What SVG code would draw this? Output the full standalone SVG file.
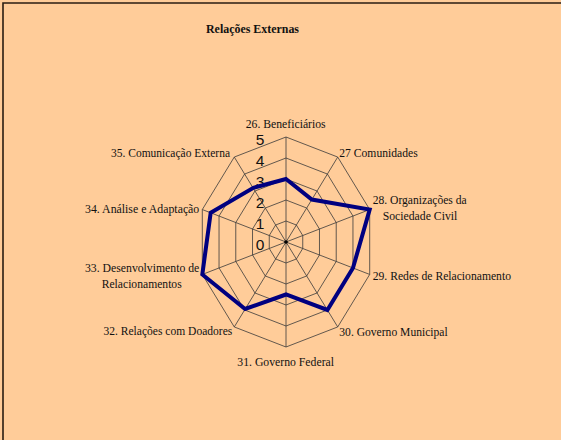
<svg xmlns="http://www.w3.org/2000/svg" width="561" height="440" viewBox="0 0 561 440">
<style>
.bg{fill:#FFCC99}
.frame{fill:none;stroke:#2b1d12;stroke-width:1.6}
.grid{fill:none;stroke:#3a3a3a;stroke-width:0.8}
.data{fill:none;stroke:#000080;stroke-width:4;stroke-linejoin:miter}
.lbl{font-family:"Liberation Serif","Times New Roman",serif;font-size:13px;fill:#111}
.title{font-family:"Liberation Serif","Times New Roman",serif;font-size:13px;font-weight:bold;fill:#111}
.tick{font-family:"Liberation Sans",Arial,sans-serif;font-size:15.5px;fill:#111;text-anchor:middle}
</style>
<rect class="bg" x="0" y="0" width="561" height="440"/>
<path class="frame" d="M3,440 V3 H561"/>
<text class="title" x="206" y="32.7" textLength="93" lengthAdjust="spacingAndGlyphs">Relações Externas</text>
<g id="grid">
<polygon class="grid" points="286,221 296.35,225.01 302.74,235.51 302.74,248.49 296.35,258.99 286,263 275.65,258.99 269.26,248.49 269.26,235.51 275.65,225.01"/>
<polygon class="grid" points="286,200 306.69,208.02 319.48,229.02 319.48,254.98 306.69,275.98 286,284 265.31,275.98 252.52,254.98 252.52,229.02 265.31,208.02"/>
<polygon class="grid" points="286,179 317.04,191.03 336.22,222.53 336.22,261.47 317.04,292.97 286,305 254.96,292.97 235.78,261.47 235.78,222.53 254.96,191.03"/>
<polygon class="grid" points="286,158 327.38,174.04 352.96,216.04 352.96,267.96 327.38,309.96 286,326 244.62,309.96 219.04,267.96 219.04,216.04 244.62,174.04"/>
<polygon class="grid" points="286,137 337.73,157.06 369.69,209.56 369.69,274.44 337.73,326.94 286,347 234.27,326.94 202.31,274.44 202.31,209.56 234.27,157.06"/>
<path class="grid" d="M286,242 L286,137 M286,242 L337.73,157.06 M286,242 L369.69,209.56 M286,242 L369.69,274.44 M286,242 L337.73,326.94 M286,242 L286,347 M286,242 L234.27,326.94 M286,242 L202.31,274.44 M286,242 L202.31,209.56 M286,242 L234.27,157.06"/>
<circle cx="286" cy="242" r="1.8" fill="#000"/>
</g>
<g id="ticks">
<text class="tick" x="260" y="144.5">5</text>
<text class="tick" x="260" y="165.5">4</text>
<text class="tick" x="260" y="186.5">3</text>
<text class="tick" x="260" y="207.5">2</text>
<text class="tick" x="260" y="228.5">1</text>
<text class="tick" x="260" y="249.5">0</text>
</g>
<g id="series">
<polygon class="data" points="286,179 311.86,199.53 369.69,209.56 352.96,267.96 327.38,309.96 286,294.5 245.1,309 202.31,274.44 210.68,212.8 253.4,187.8"/>
</g>
<g id="n26"><text class="lbl" x="245.7" y="128.3" textLength="80" lengthAdjust="spacingAndGlyphs">26. Beneficiários</text></g>
<g id="n27"><text class="lbl" x="339.3" y="156.7" textLength="78.4" lengthAdjust="spacingAndGlyphs">27 Comunidades</text></g>
<g id="n28"><text class="lbl" x="372.7" y="204.3" textLength="94" lengthAdjust="spacingAndGlyphs">28. Organizações da</text><text class="lbl" x="382.7" y="220" textLength="74.6" lengthAdjust="spacingAndGlyphs">Sociedade Civil</text></g>
<g id="n29"><text class="lbl" x="372.7" y="280" textLength="138.3" lengthAdjust="spacingAndGlyphs">29. Redes de Relacionamento</text></g>
<g id="n30"><text class="lbl" x="339.3" y="335.7" textLength="108.4" lengthAdjust="spacingAndGlyphs">30. Governo Municipal</text></g>
<g id="n31"><text class="lbl" x="237.3" y="366" textLength="96.7" lengthAdjust="spacingAndGlyphs">31. Governo Federal</text></g>
<g id="n32"><text class="lbl" x="103.5" y="335" textLength="128.8" lengthAdjust="spacingAndGlyphs">32. Relações com Doadores</text></g>
<g id="n33"><text class="lbl" x="85" y="272.3" textLength="114.3" lengthAdjust="spacingAndGlyphs">33. Desenvolvimento de</text><text class="lbl" x="101.7" y="288.3" textLength="80" lengthAdjust="spacingAndGlyphs">Relacionamentos</text></g>
<g id="n34"><text class="lbl" x="85" y="212.7" textLength="114.3" lengthAdjust="spacingAndGlyphs">34. Análise e Adaptação</text></g>
<g id="n35"><text class="lbl" x="111" y="157.3" textLength="119" lengthAdjust="spacingAndGlyphs">35. Comunicação Externa</text></g>
</svg>
